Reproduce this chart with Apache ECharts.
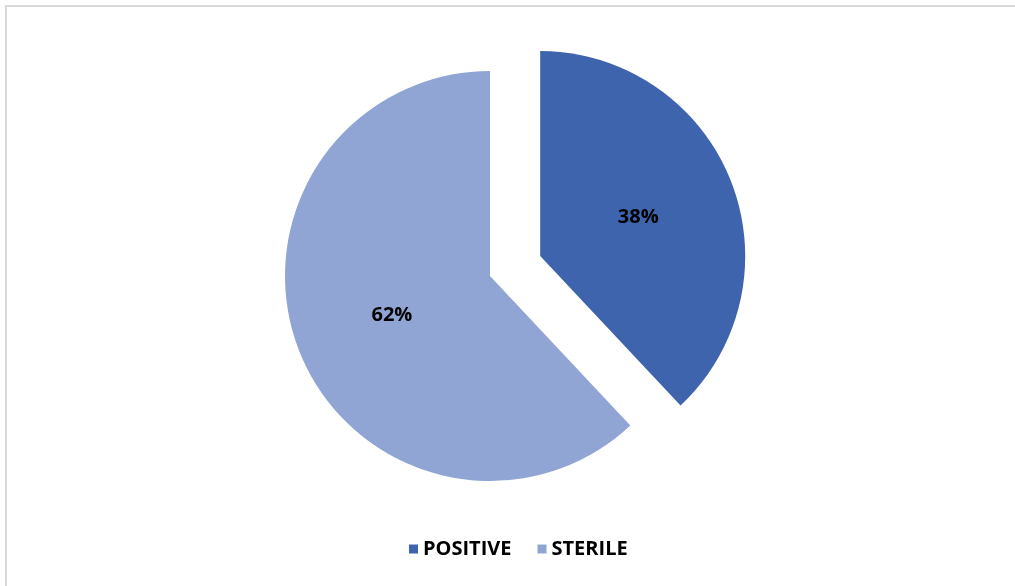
<!DOCTYPE html>
<html>
<head>
<meta charset="utf-8">
<script src="https://cdn.jsdelivr.net/npm/echarts@6/dist/echarts.min.js"></script>
<style>
  html, body { margin: 0; padding: 0; background: #fff; }
  #chart { width: 1015px; height: 586px; }
</style>
</head>
<body>
<div id="chart"></div>
<script>
// data
var categories = ['POSITIVE', 'STERILE'];
var values = [38, 62];
var colors = ['#3E64AD', '#91A5D5'];

var myChart = echarts.init(document.getElementById('chart'));

var pieData = categories.map(function (name, i) {
  return {
    name: name,
    value: values[i],
    selected: i === 0,
    itemStyle: { color: colors[i] }
  };
});

var option = {
  animation: false,
  backgroundColor: '#fff',
  graphic: [
    // the frame's top and left edges
    { type: 'rect', shape: { x: 5, y: 5, width: 1010, height: 2 }, style: { fill: '#d9d9d9' } },
    { type: 'rect', shape: { x: 5, y: 5, width: 2, height: 581 }, style: { fill: '#d9d9d9' } }
  ],
  legend: {
    bottom: 22,
    left: 404,
    itemWidth: 9,
    itemHeight: 9,
    itemGap: 26,
    icon: 'rect',
    selectedMode: false,
    textStyle: { fontFamily: 'Open Sans', fontWeight: 'bold', fontSize: 20, color: '#000' },
    data: categories
  },
  series: [{
    type: 'pie',
    center: [490, 276],
    radius: 205,
    startAngle: 90,
    clockwise: true,
    selectedMode: 'single',
    selectedOffset: 54,
    label: {
      position: 'inner',
      formatter: '{d}%',
      fontFamily: 'Open Sans',
      fontWeight: 'bold',
      fontSize: 20,
      color: '#000'
    },
    labelLine: { show: false },
    emphasis: { disabled: true },
    data: pieData
  }]
};

myChart.setOption(option);
</script>
</body>
</html>
